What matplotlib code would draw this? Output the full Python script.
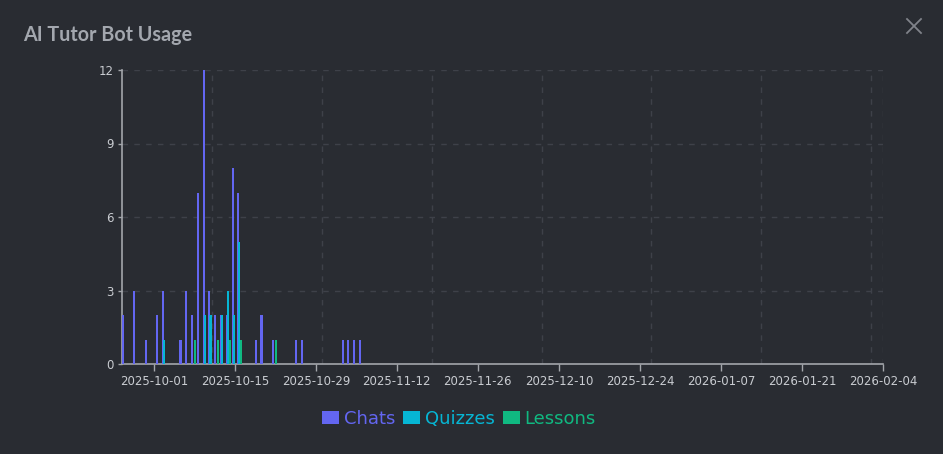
import matplotlib
matplotlib.use("Agg")
import matplotlib.pyplot as plt
import matplotlib.dates as mdates
from matplotlib.lines import Line2D
from matplotlib.patches import Patch
import numpy as np
import datetime as dt

# ---- data ----
dates = ["2025-09-25", "2025-09-27", "2025-09-29", "2025-10-01", "2025-10-02",
         "2025-10-05", "2025-10-06", "2025-10-07", "2025-10-08", "2025-10-09",
         "2025-10-10", "2025-10-11", "2025-10-12", "2025-10-13", "2025-10-14",
         "2025-10-15", "2025-10-18", "2025-10-19", "2025-10-21", "2025-10-25",
         "2025-10-26", "2025-11-02", "2025-11-03", "2025-11-04", "2025-11-05"]
chats   = [2, 3, 1, 2, 3, 1, 3, 2, 7, 12, 3, 2, 2, 2, 8, 7, 1, 2, 1, 1, 1, 1, 1, 1, 1]
quizzes = [0, 0, 0, 0, 1, 0, 0, 0, 0, 2, 2, 0, 2, 3, 2, 5, 0, 0, 0, 0, 0, 0, 0, 0, 0]
lessons = [0, 0, 0, 0, 0, 0, 0, 1, 0, 0, 0, 1, 0, 1, 0, 1, 0, 0, 1, 0, 0, 0, 0, 0, 0]
series_names = ["Chats", "Quizzes", "Lessons"]
tick_dates = ["2025-10-01", "2025-10-15", "2025-10-29", "2025-11-12", "2025-11-26",
              "2025-12-10", "2025-12-24", "2026-01-07", "2026-01-21", "2026-02-04"]
y_ticks = [0, 3, 6, 9, 12]
title = "AI Tutor Bot Usage"

# ---- style ----
BG = "#292c32"
COLORS = ["#6366f1", "#06b6d4", "#10b981"]
OFFSETS = [0.62, 0.80, 1.13]   # day offsets of each series within a day
BAR_W = 0.36
GRID_C = "#3e4149"
SPINE_C = "#a3a6ab"
TEXT_C = "#c9ccd1"
DASH = (0, (4, 4.5))

fig = plt.figure(figsize=(9.43, 4.54), dpi=100, facecolor=BG)
ax = fig.add_axes([122/943, 1 - 364/454, (883-122)/943, (364-70)/454])
ax.set_facecolor(BG)

x = mdates.date2num([dt.datetime.strptime(d, "%Y-%m-%d") for d in dates])
for vals, col, off, name in zip([chats, quizzes, lessons], COLORS, OFFSETS, series_names):
    v = np.array(vals, dtype=float)
    m = v > 0
    ax.bar(x[m] + off, v[m], width=BAR_W, color=col, label=name, zorder=3, linewidth=0)

xmin = mdates.date2num(dt.datetime(2025, 9, 25)) + 0.51
xmax = mdates.date2num(dt.datetime(2026, 2, 4))
ax.set_xlim(xmin, xmax)
ax.set_ylim(0, 12)

ticks = mdates.date2num([dt.datetime.strptime(d, "%Y-%m-%d") for d in tick_dates])
ax.set_xticks(ticks)
ax.set_xticklabels(tick_dates)
ax.set_yticks(y_ticks)
ax.set_yticklabels([str(t) for t in y_ticks])

# grid: horizontal dashed
for yv in y_ticks[1:]:
    ax.axhline(yv, color=GRID_C, lw=1.0, ls=DASH, zorder=1)
# vertical split lines (independent from labels)
grid_start = mdates.date2num(dt.datetime(2025, 10, 11))
for k in range(7):
    ax.axvline(grid_start + 19 * k, color=GRID_C, lw=1.0, ls=DASH, zorder=1)
ax.axvline(xmax, color=GRID_C, lw=1.0, ls=DASH, zorder=1)

for s in ["top", "right"]:
    ax.spines[s].set_visible(False)
for s in ["left", "bottom"]:
    ax.spines[s].set_color(SPINE_C)
    ax.spines[s].set_linewidth(1.2)

ax.tick_params(axis="x", colors=SPINE_C, labelcolor=TEXT_C, length=5, width=1, pad=3, labelsize=8.5)
ax.tick_params(axis="y", colors=SPINE_C, labelcolor=TEXT_C, length=3, width=1, pad=3, labelsize=8.5)

# title
fig.text(23/943, 1 - 35/454, title, color="#a3a7ae", fontsize=14.2, fontweight="bold",
         family=["Lato", "DejaVu Sans"], va="center", ha="left")

# close icon
def px(xp, yp):
    return xp/943, 1 - yp/454
for (a, b) in [((907, 19), (921, 33)), ((921, 19), (907, 33))]:
    (x0, y0), (x1, y1) = px(*a), px(*b)
    fig.add_artist(Line2D([x0, x1], [y0, y1], color="#80838a", lw=1.3))

# legend
handles = [Patch(facecolor=c, edgecolor="none") for c in COLORS]
leg = fig.legend(handles, series_names, loc="center", bbox_to_anchor=(459/943, 1 - 419/454),
                 ncol=3, frameon=False, fontsize=13, handlelength=0.95, handleheight=0.75,
                 handletextpad=0.25, columnspacing=0.45)
for t, c in zip(leg.get_texts(), COLORS):
    t.set_color(c)

fig.savefig("out.png", dpi=100, facecolor=BG)
